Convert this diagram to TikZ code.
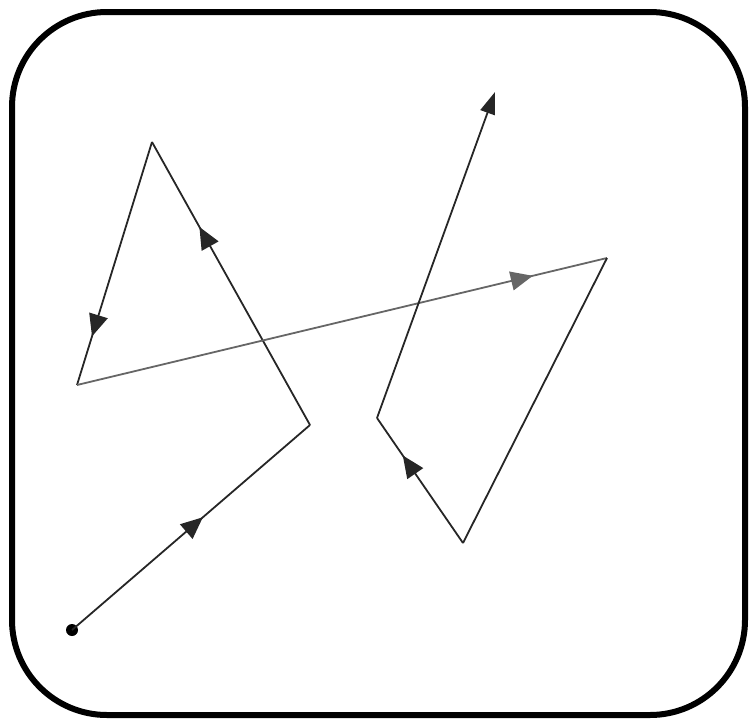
\documentclass[tikz,border=0pt]{standalone}
\usetikzlibrary{arrows.meta,decorations.markings}
\begin{document}
\begin{tikzpicture}[x=1pt,y=-1pt,
  seg/.style={draw=black!85, line width=1.8pt},
  midarrow/.style={postaction={decorate},
    decoration={markings, mark=at position #1 with {\arrow{Triangle[width=19pt,length=22pt]}}}},
  frame/.style={draw=black, line width=6pt, rounded corners=95pt}]
\useasboundingbox (0,0) rectangle (752,723);
\draw[frame] (12,12) rectangle (745,715);
\coordinate (S) at (72,630);
\coordinate (A) at (310,425);
\coordinate (B) at (152,142);
\coordinate (C) at (77,385);
\coordinate (D) at (607,258);
\coordinate (E) at (463,543);
\coordinate (F) at (377,418);
\coordinate (G) at (495,92);
\fill (S) circle (6pt);
\draw[seg, midarrow=0.55] (S) -- (A);
\draw[seg, midarrow=0.7] (A) -- (B);
\draw[seg, midarrow=0.8] (B) -- (C);
\draw[seg, draw=black!60, midarrow=0.86] (C) -- (D);
\draw[seg] (D) -- (E);
\draw[seg, midarrow=0.7] (E) -- (F);
\draw[seg, -{Triangle[width=15pt,length=22pt]}] (F) -- (G);
\end{tikzpicture}
\end{document}
